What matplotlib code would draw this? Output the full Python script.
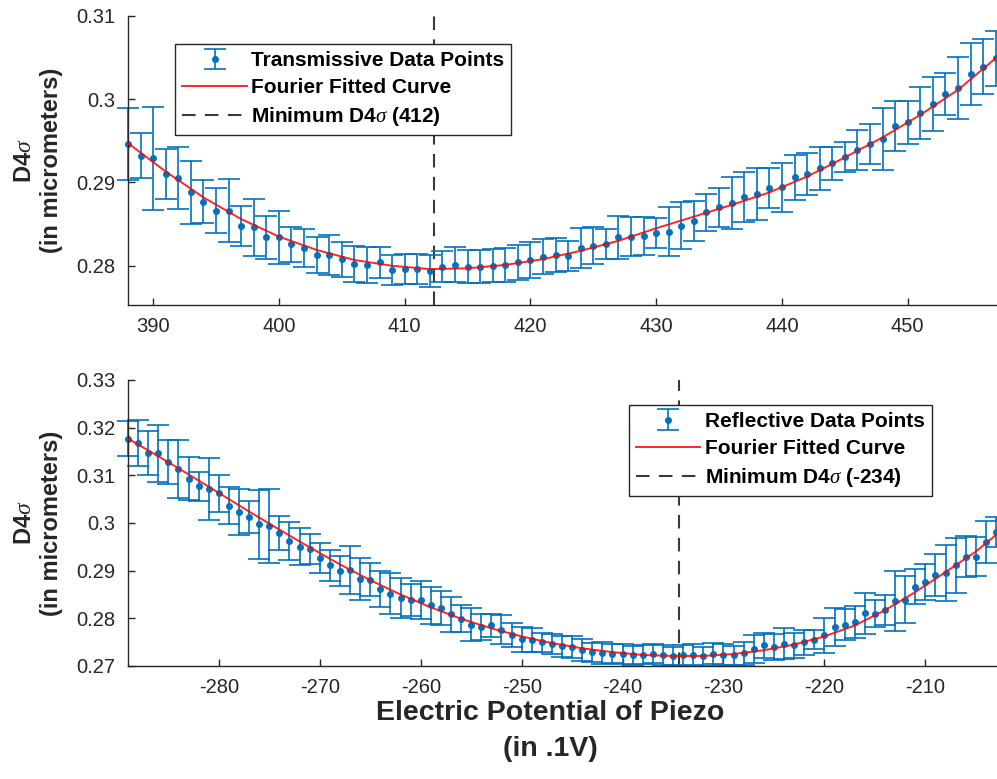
import numpy as np
import matplotlib.pyplot as plt
from matplotlib.ticker import FuncFormatter

plt.rcParams['font.family'] = ['Liberation Sans', 'DejaVu Sans']
plt.rcParams['mathtext.fontset'] = 'custom'
plt.rcParams['mathtext.rm'] = 'Liberation Sans'
plt.rcParams['mathtext.it'] = 'Liberation Serif:italic'
plt.rcParams['axes.unicode_minus'] = False

# --- transmissive data (piezo steps 388..457) ---
t_x = np.arange(388, 458)
t_y = [0.2946, 0.2932, 0.2929, 0.2910, 0.2905, 0.2888, 0.2877, 0.2866, 0.2866, 0.2848,
       0.2846, 0.2834, 0.2834, 0.2826, 0.2821, 0.2813, 0.2813, 0.2808, 0.2802, 0.2801,
       0.2804, 0.2795, 0.2796, 0.2796, 0.2794, 0.2799, 0.2801, 0.2799, 0.2799, 0.2800,
       0.2801, 0.2804, 0.2807, 0.2811, 0.2813, 0.2812, 0.2821, 0.2824, 0.2826, 0.2834,
       0.2835, 0.2836, 0.2839, 0.2841, 0.2848, 0.2854, 0.2864, 0.2870, 0.2875, 0.2882,
       0.2886, 0.2893, 0.2894, 0.2906, 0.2910, 0.2917, 0.2923, 0.2931, 0.2939, 0.2946,
       0.2952, 0.2968, 0.2972, 0.2983, 0.2994, 0.3006, 0.3013, 0.3030, 0.3039, 0.3049]
t_err = [0.0043, 0.0027, 0.0062, 0.0030, 0.0037, 0.0038, 0.0026, 0.0027, 0.0038, 0.0024,
         0.0034, 0.0026, 0.0032, 0.0021, 0.0023, 0.0022, 0.0024, 0.0021, 0.0022, 0.0022,
         0.0019, 0.0018, 0.0018, 0.0018, 0.0019, 0.0019, 0.0021, 0.0020, 0.0020, 0.0020,
         0.0020, 0.0021, 0.0022, 0.0021, 0.0020, 0.0018, 0.0024, 0.0022, 0.0018, 0.0026,
         0.0023, 0.0023, 0.0018, 0.0029, 0.0028, 0.0024, 0.0022, 0.0023, 0.0031, 0.0030,
         0.0031, 0.0024, 0.0029, 0.0027, 0.0025, 0.0026, 0.0020, 0.0018, 0.0024, 0.0024,
         0.0037, 0.0030, 0.0026, 0.0031, 0.0032, 0.0025, 0.0037, 0.0037, 0.0033, 0.0033]
t_fit_x = [388, 391, 394, 397, 400, 403, 406, 409, 412, 415, 418, 421,
           424, 427, 430, 433, 436, 439, 442, 445, 448, 451, 454, 457]
t_fit_y = [0.2947, 0.2913, 0.2882, 0.2856, 0.2835, 0.2819, 0.2807, 0.2800, 0.2796, 0.2797,
           0.2801, 0.2808, 0.2818, 0.2830, 0.2845, 0.2859, 0.2873, 0.2888, 0.2907, 0.2930,
           0.2954, 0.2981, 0.3011, 0.3049]
t_min = 412.3

# --- reflective data (piezo steps -289..-203) ---
r_x = np.arange(-289, -202)
r_y = [0.3177, 0.3168, 0.3147, 0.3146, 0.3128, 0.3114, 0.3093, 0.3077, 0.3072, 0.3062,
       0.3036, 0.3023, 0.3013, 0.2997, 0.2994, 0.2979, 0.2962, 0.2950, 0.2945, 0.2927,
       0.2911, 0.2899, 0.2902, 0.2883, 0.2881, 0.2862, 0.2852, 0.2843, 0.2839, 0.2838,
       0.2827, 0.2822, 0.2808, 0.2799, 0.2787, 0.2782, 0.2785, 0.2776, 0.2765, 0.2756,
       0.2755, 0.2750, 0.2746, 0.2741, 0.2740, 0.2733, 0.2729, 0.2727, 0.2726, 0.2726,
       0.2722, 0.2724, 0.2726, 0.2724, 0.2720, 0.2722, 0.2724, 0.2720, 0.2726, 0.2724,
       0.2722, 0.2727, 0.2736, 0.2743, 0.2740, 0.2747, 0.2743, 0.2750, 0.2755, 0.2764,
       0.2782, 0.2787, 0.2792, 0.2811, 0.2810, 0.2817, 0.2836, 0.2839, 0.2866, 0.2876,
       0.2890, 0.2895, 0.2911, 0.2929, 0.2929, 0.2960, 0.2981]
r_err = [0.0037, 0.0049, 0.0046, 0.0059, 0.0047, 0.0061, 0.0045, 0.0030, 0.0065, 0.0039,
         0.0039, 0.0049, 0.0034, 0.0073, 0.0077, 0.0036, 0.0040, 0.0039, 0.0031, 0.0032,
         0.0033, 0.0032, 0.0050, 0.0044, 0.0034, 0.0038, 0.0044, 0.0042, 0.0034, 0.0040,
         0.0038, 0.0035, 0.0036, 0.0028, 0.0035, 0.0028, 0.0025, 0.0030, 0.0026, 0.0026,
         0.0025, 0.0020, 0.0021, 0.0022, 0.0023, 0.0023, 0.0020, 0.0023, 0.0020, 0.0021,
         0.0020, 0.0019, 0.0020, 0.0021, 0.0019, 0.0022, 0.0022, 0.0020, 0.0022, 0.0023,
         0.0020, 0.0024, 0.0030, 0.0026, 0.0027, 0.0033, 0.0026, 0.0026, 0.0020, 0.0036,
         0.0040, 0.0033, 0.0033, 0.0043, 0.0029, 0.0031, 0.0063, 0.0049, 0.0037, 0.0037,
         0.0044, 0.0059, 0.0058, 0.0043, 0.0041, 0.0045, 0.0032]
r_fit_x = [-289, -286, -283, -280, -277, -274, -271, -268, -265, -262, -259, -256, -253,
           -250, -247, -244, -241, -238, -235, -232, -229, -226, -223, -220, -217, -214,
           -211, -208, -205, -203]
r_fit_y = [0.3177, 0.3140, 0.3102, 0.3063, 0.3024, 0.2986, 0.2949, 0.2913, 0.2880, 0.2850,
           0.2823, 0.2799, 0.2779, 0.2762, 0.2748, 0.2737, 0.2729, 0.2723, 0.2721, 0.2721,
           0.2725, 0.2733, 0.2745, 0.2762, 0.2785, 0.2817, 0.2855, 0.2897, 0.2940, 0.2975]
r_min = -234.4

blue = '#0072BD'
dark = '#262626'

fig = plt.figure(figsize=(9.97, 7.79), dpi=100)
ax1 = fig.add_axes([0.1284, 0.6085, 0.8716, 0.3714])
ax2 = fig.add_axes([0.1284, 0.1451, 0.8716, 0.3671])


def panel(ax, x, y, err, fx, fy, xmin, name, minlabel):
    eb = ax.errorbar(x, y, yerr=err, fmt='.', color=blue, ms=8, elinewidth=1.2,
                     capsize=8, capthick=1.2, zorder=2)
    for a in eb.get_children():
        a.set_clip_on(False)
    fit, = ax.plot(fx, fy, color='red', lw=1.4, alpha=0.85, zorder=3)
    vl = ax.axvline(xmin, color='#3a3a3a', lw=1.5, dashes=(6.5, 4.5), zorder=1)
    for s in ['top', 'right']:
        ax.spines[s].set_visible(False)
    for s in ['left', 'bottom']:
        ax.spines[s].set_color(dark)
        ax.spines[s].set_linewidth(1.0)
    ax.tick_params(direction='in', length=5, width=1, colors=dark, labelsize=14.5, pad=9)
    ax.yaxis.set_major_formatter(FuncFormatter(lambda v, p: '%g' % round(v, 4)))
    ax.set_ylabel('D4$\\sigma$\n(in micrometers)', fontsize=17, fontweight='bold', color=dark)
    ax.yaxis.set_label_coords(-0.075, 0.5)
    return [eb, fit, vl], [name, 'Fourier Fitted Curve', minlabel]


legend_kw = dict(borderaxespad=0, prop={'size': 15, 'weight': 'bold'}, handlelength=3.1,
                 handletextpad=0.2, borderpad=0.35, labelspacing=0.38, fancybox=False,
                 framealpha=1, edgecolor=dark)

h, l = panel(ax1, t_x, t_y, t_err, t_fit_x, t_fit_y, t_min,
             'Transmissive Data Points', 'Minimum D4$\\sigma$ (412)')
ax1.set_xlim(388, 457.1)
ax1.set_ylim(0.2753, 0.31)
ax1.set_xticks(range(390, 451, 10))
ax1.set_yticks([0.28, 0.29, 0.30, 0.31])
leg = ax1.legend(h, l, loc='upper left', bbox_to_anchor=(0.054, 0.902), **legend_kw)
leg.get_frame().set_linewidth(1.0)

h, l = panel(ax2, r_x, r_y, r_err, r_fit_x, r_fit_y, r_min,
             'Reflective Data Points', 'Minimum D4$\\sigma$ (-234)')
ax2.set_xlim(-289, -202.9)
ax2.set_ylim(0.27, 0.33)
ax2.set_xticks(range(-280, -209, 10))
ax2.set_yticks([0.27, 0.28, 0.29, 0.30, 0.31, 0.32, 0.33])
leg = ax2.legend(h, l, loc='upper right', bbox_to_anchor=(0.925, 0.913), **legend_kw)
leg.get_frame().set_linewidth(1.0)
ax2.set_xlabel('Electric Potential of Piezo\n(in .1V)', fontsize=20.5, fontweight='bold',
               color=dark, linespacing=1.5)
ax2.xaxis.set_label_coords(0.486, -0.118)

fig.savefig('out.png', dpi=100)
